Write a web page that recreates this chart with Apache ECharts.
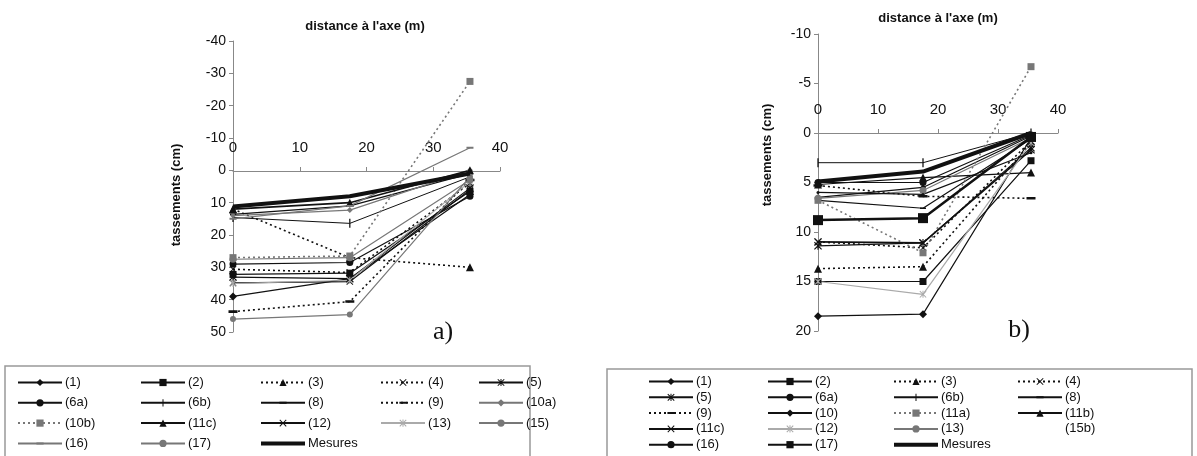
<!DOCTYPE html>
<html>
<head>
<meta charset="utf-8">
<script src="https://cdn.jsdelivr.net/npm/echarts@6/dist/echarts.min.js"></script>
<style>
html, body { margin: 0; padding: 0; background: #fff; }
#main { width: 1197px; height: 456px; }
</style>
</head>
<body>
<div id="main"></div>
<script>
// distances (m) of the three measuring points
var dist = [0, 17.5, 35.5];

// panel a) settlements (cm)
var a1 = [39, 33.5, 7.5];
var a2 = [32.2, 31.8, 6.5];
var a3 = [12, 27, 30];
var a4 = [30.6, 31.6, 4];
var a5 = [33, 33.5, 5.5];
var a6a = [29, 28.5, 8];
var a6b = [14.6, 16.4, 2];
var a8 = [13.6, 11, 1];
var a9 = [43.7, 40.6, 3];
var a10a = [14, 12.3, 0];
var a10b = [27, 26.5, -27.5];
var a11c = [12, 10, 0];
var a12 = [34.8, 34.4, 6];
var a13 = [35, 34, 3.5];
var a15 = [27.5, 27, 3];
var a16 = [15, 11, -7];
var a17 = [46, 44.6, 2];
var aMes = [11.2, 8, 1];

// panel b) settlements (cm)
var b1 = [18.5, 18.3, 0.5];
var b2 = [15, 15, 2.8];
var b3 = [13.7, 13.5, 1];
var b4 = [11, 11.6, 0.8];
var b5 = [11.4, 11.1, 1.5];
var b6a = [5, 5, 0.2];
var b6b = [3, 3, 0];
var b8 = [6.8, 7.6, 0.6];
var b9 = [5.3, 6.4, 6.6];
var b10 = [6.5, 5.5, 0.3];
var b11a = [6.8, 12.1, -6.7];
var b11b = [5.2, 4.5, 4];
var b11c = [11, 11.1, 1.7];
var b12 = [15, 16.3, 1];
var b13 = [6.6, 5.8, 0.5];
var b15b = [];
var b16 = [6, 6.2, 2];
var b17 = [8.8, 8.6, 0.4];
var bMes = [4.9, 3.9, 0];

var FONT = '"Liberation Sans", Arial, sans-serif';
var BLACK = '#111', GREY = '#777', LIGHT = '#aaa';
// tiny corner specks keep the 10x10 box so thin marks are not stretched
var BOX = 'M0,0L0.01,0L0.01,0.01Z M10,10L9.99,10L9.99,9.99Z ';
var CROSS = 'path://M1,0L5,4L9,0L10,1L6,5L10,9L9,10L5,6L1,10L0,9L4,5L0,1Z';
var STAR = 'path://M1,0L5,4L9,0L10,1L6,5L10,9L9,10L5,6L1,10L0,9L4,5L0,1Z M4.3,0L5.7,0L5.7,10L4.3,10Z';
var PLUS = 'path://' + BOX + 'M4.3,0L5.7,0L5.7,10L4.3,10Z';
var DASH = 'path://' + BOX + 'M0,3.6L10,3.6L10,6.4L0,6.4Z';
var THICK = 'path://M0,0L44,0L44,4L0,4Z';
var DOT = [2, 3];

function line(panel, name, vals, st) {
    var idx = panel === 'a' ? 0 : 1;
    return {
        name: panel + '|' + name,
        type: 'line',
        xAxisIndex: idx,
        yAxisIndex: idx,
        data: vals.map(function (v, i) { return [dist[i], v]; }),
        symbol: st.sym || 'none',
        symbolSize: st.size || 7,
        symbolKeepAspect: true,
        lineStyle: { color: st.color || BLACK, width: st.w || 1.2, type: st.dash || 'solid' },
        itemStyle: { color: st.color || BLACK },
        z: st.z || 2
    };
}

var seriesA = [
    line('a', '(1)', a1, { sym: 'diamond', size: 8 }),
    line('a', '(2)', a2, { sym: 'rect', size: 7 }),
    line('a', '(3)', a3, { sym: 'triangle', size: 8, dash: DOT, w: 1.6 }),
    line('a', '(4)', a4, { sym: CROSS, size: 7, dash: DOT, w: 1.6 }),
    line('a', '(5)', a5, { sym: STAR, size: 8 }),
    line('a', '(6a)', a6a, { sym: 'circle', size: 7 }),
    line('a', '(6b)', a6b, { sym: PLUS, size: 9, w: 1 }),
    line('a', '(8)', a8, { sym: DASH, size: 6 }),
    line('a', '(9)', a9, { sym: DASH, size: 9, dash: DOT, w: 1.6 }),
    line('a', '(10a)', a10a, { sym: 'diamond', size: 6, color: GREY }),
    line('a', '(10b)', a10b, { sym: 'rect', size: 7, color: GREY, dash: DOT, w: 1.6 }),
    line('a', '(11c)', a11c, { sym: 'triangle', size: 8, w: 1.6 }),
    line('a', '(12)', a12, { sym: CROSS, size: 7 }),
    line('a', '(13)', a13, { sym: STAR, size: 7, color: LIGHT }),
    line('a', '(15)', a15, { sym: 'circle', size: 7, color: GREY }),
    line('a', '(16)', a16, { sym: DASH, size: 7, color: GREY }),
    line('a', '(17)', a17, { sym: 'circle', size: 6, color: GREY }),
    line('a', 'Mesures', aMes, { w: 4, z: 3 })
];

var seriesB = [
    line('b', '(1)', b1, { sym: 'diamond', size: 8 }),
    line('b', '(2)', b2, { sym: 'rect', size: 7 }),
    line('b', '(3)', b3, { sym: 'triangle', size: 8, dash: DOT, w: 1.6 }),
    line('b', '(4)', b4, { sym: CROSS, size: 7, dash: DOT, w: 1.6 }),
    line('b', '(5)', b5, { sym: STAR, size: 8 }),
    line('b', '(6a)', b6a, { sym: 'circle', size: 7 }),
    line('b', '(6b)', b6b, { sym: PLUS, size: 9, w: 1 }),
    line('b', '(8)', b8, { sym: DASH, size: 6 }),
    line('b', '(9)', b9, { sym: DASH, size: 9, dash: DOT, w: 1.6 }),
    line('b', '(10)', b10, { sym: 'diamond', size: 6 }),
    line('b', '(11a)', b11a, { sym: 'rect', size: 7, color: GREY, dash: DOT, w: 1.6 }),
    line('b', '(11b)', b11b, { sym: 'triangle', size: 8 }),
    line('b', '(11c)', b11c, { sym: CROSS, size: 8, w: 1.6 }),
    line('b', '(12)', b12, { sym: STAR, size: 7, color: LIGHT }),
    line('b', '(13)', b13, { sym: 'circle', size: 7, color: GREY }),
    line('b', '(15b)', b15b, { color: 'rgba(0,0,0,0)' }),
    line('b', '(16)', b16, { sym: 'circle', size: 3 }),
    line('b', '(17)', b17, { sym: 'rect', size: 10, w: 2.5 }),
    line('b', 'Mesures', bMes, { w: 4, z: 3 })
];

function leg(names, left, top, gap) {
    return {
        data: names,
        left: left,
        top: top,
        height: 150,
        orient: 'vertical',
        padding: 0,
        itemGap: gap,
        itemWidth: 44,
        itemHeight: 9,
        selectedMode: false,
        formatter: function (n) { return n.split('|')[1]; },
        textStyle: { fontFamily: FONT, fontSize: 13, color: BLACK, padding: [0, 0, 0, -2] }
    };
}
function pre(p, arr) {
    return arr.map(function (n) {
        // the measured curve has no marker: draw a plain thick bar in the legend
        if (n === 'Mesures') return { name: p + '|' + n, icon: THICK };
        return p + '|' + n;
    });
}

function xAx(gridIndex, shift) {
    return {
        gridIndex: gridIndex, type: 'value', min: 0, max: 40, interval: 10,
        position: 'top',
        offset: shift,
        axisLine: { onZero: false, lineStyle: { color: '#888', width: 1 } },
        axisTick: { show: true, length: 4, lineStyle: { color: '#888' } },
        axisLabel: { fontFamily: FONT, fontSize: 15, color: BLACK, margin: 16 },
        splitLine: { show: false }
    };
}
function yAx(gridIndex, min, max, step) {
    return {
        gridIndex: gridIndex, type: 'value', inverse: true, min: min, max: max, interval: step,
        axisLine: { show: true, onZero: false, lineStyle: { color: '#888', width: 1 } },
        axisTick: { show: true, length: 4, lineStyle: { color: '#888' } },
        axisLabel: { fontFamily: FONT, fontSize: 14, color: BLACK, margin: 7 },
        splitLine: { show: false }
    };
}

var chart = echarts.init(document.getElementById('main'));
chart.setOption({
    animation: false,
    backgroundColor: '#fff',
    title: [
        { text: "distance à l'axe (m)", left: 360, top: 15, textAlign: 'center',
          textStyle: { fontFamily: FONT, fontSize: 13, fontWeight: 'bold', color: BLACK } },
        { text: "distance à l'axe (m)", left: 933, top: 7, textAlign: 'center',
          textStyle: { fontFamily: FONT, fontSize: 13, fontWeight: 'bold', color: BLACK } }
    ],
    grid: [
        { left: 233, top: 41, width: 267, height: 291 },
        { left: 818, top: 34, width: 240, height: 297 }
    ],
    // the x axes sit on the zero line of the reversed y axes
    xAxis: [xAx(0, -130), xAx(1, -99)],
    yAxis: [yAx(0, -40, 50, 10), yAx(1, -10, 20, 5)],
    legend: [
        leg(pre('a', ['(1)', '(6a)', '(10b)', '(16)']), 17, 376, 7.3),
        leg(pre('a', ['(2)', '(6b)', '(11c)', '(17)']), 140, 376, 7.3),
        leg(pre('a', ['(3)', '(8)', '(12)', 'Mesures']), 260, 376, 7.3),
        leg(pre('a', ['(4)', '(9)', '(13)']), 380, 376, 7.3),
        leg(pre('a', ['(5)', '(10a)', '(15)']), 478, 376, 7.3),
        leg(pre('b', ['(1)', '(5)', '(9)', '(11c)', '(16)']), 648, 375, 2.8),
        leg(pre('b', ['(2)', '(6a)', '(10)', '(12)', '(17)']), 767, 375, 2.8),
        leg(pre('b', ['(3)', '(6b)', '(11a)', '(13)', 'Mesures']), 893, 375, 2.8),
        leg(pre('b', ['(4)', '(8)', '(11b)', '(15b)']), 1017, 375, 2.8)
    ],
    graphic: [
        { type: 'rect', shape: { x: 5, y: 366, width: 525, height: 100 },
          style: { fill: 'none', stroke: '#999', lineWidth: 1.5 } },
        { type: 'rect', shape: { x: 607, y: 369, width: 585, height: 100 },
          style: { fill: 'none', stroke: '#999', lineWidth: 1.5 } },
        { type: 'text', x: 176, y: 195, rotation: Math.PI / 2,
          style: { text: 'tassements (cm)', fontFamily: FONT, fontSize: 13, fontWeight: 'bold', fill: BLACK,
                   align: 'center', verticalAlign: 'middle' } },
        { type: 'text', x: 767, y: 155, rotation: Math.PI / 2,
          style: { text: 'tassements (cm)', fontFamily: FONT, fontSize: 13, fontWeight: 'bold', fill: BLACK,
                   align: 'center', verticalAlign: 'middle' } },
        { type: 'text', x: 443, y: 332,
          style: { text: 'a)', fontFamily: '"Liberation Serif", serif', fontSize: 26, fill: BLACK,
                   align: 'center', verticalAlign: 'middle' } },
        { type: 'text', x: 1019, y: 330,
          style: { text: 'b)', fontFamily: '"Liberation Serif", serif', fontSize: 26, fill: BLACK,
                   align: 'center', verticalAlign: 'middle' } }
    ],
    series: seriesA.concat(seriesB)
});
</script>
</body>
</html>
